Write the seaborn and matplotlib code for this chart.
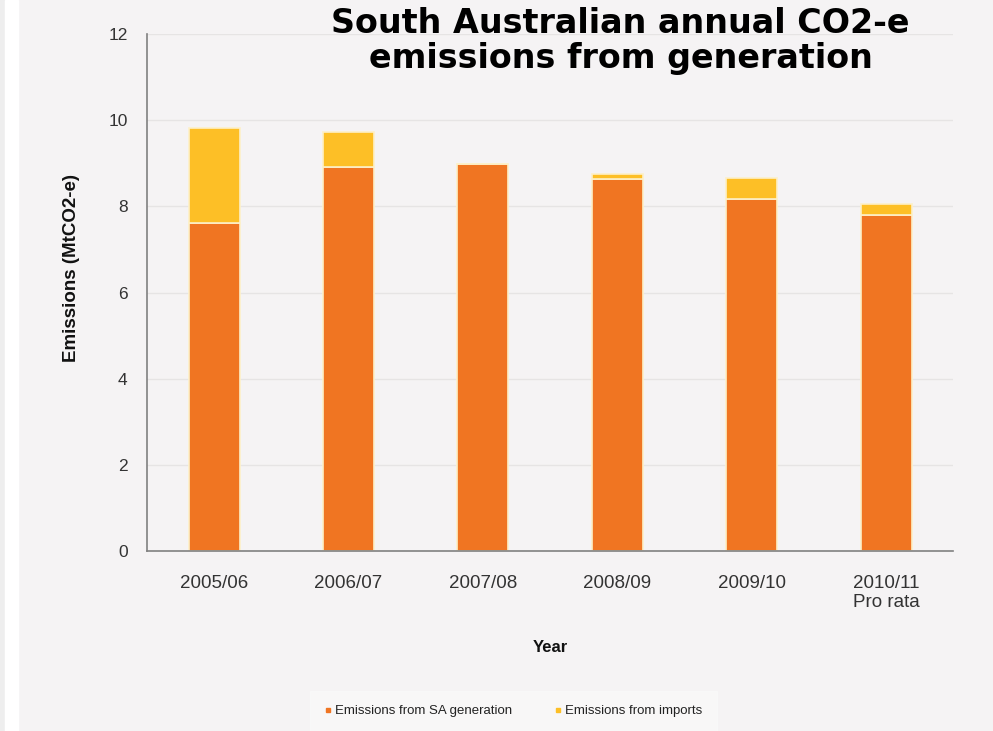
import matplotlib
matplotlib.use('Agg')
import matplotlib.pyplot as plt
import seaborn as sns
import numpy as np
from matplotlib.lines import Line2D
from matplotlib.patches import Rectangle

years = ['2005/06', '2006/07', '2007/08', '2008/09', '2009/10', '2010/11\nPro rata']
sa_gen = [7.62, 8.92, 8.99, 8.63, 8.17, 7.79]
imports = [2.19, 0.81, 0.0, 0.12, 0.49, 0.26]
yticks = [0, 2, 4, 6, 8, 10, 12]

c_sa = '#f07522'
c_imp = '#fdbf26'
bg = '#f5f3f4'

sns.set_style('white')
plt.rcParams['font.family'] = ['Liberation Sans', 'DejaVu Sans']

fig = plt.figure(figsize=(9.93, 7.31), dpi=100, facecolor=bg)
# left strip like the page border
fig.patches.append(Rectangle((0, 0), 0.005, 1, transform=fig.transFigure, color='#eeeeee', zorder=0))
fig.patches.append(Rectangle((0.005, 0), 0.013, 1, transform=fig.transFigure, color='white', zorder=0))

ax = fig.add_axes([0.148, 0.2462, 0.812, 0.7073])
ax.set_facecolor(bg)

sns.barplot(x=years, y=sa_gen, color=c_sa, width=0.38, saturation=1,
            edgecolor='#fdf0c8', linewidth=1.2, ax=ax)
sns.barplot(x=years, y=imports, bottom=sa_gen, color=c_imp, width=0.38, saturation=1,
            edgecolor='#fdf0c8', linewidth=1.2, ax=ax)

ax.set_ylim(0, 12)
ax.set_xlim(-0.5, len(years) - 0.5)
ax.set_yticks(yticks)
ax.set_yticklabels([str(t) for t in yticks])
for t in yticks[1:]:
    ax.axhline(t, color='#e6e4e4', lw=1, zorder=0)

# category boundary ticks on x
ax.set_xticks(np.arange(len(years)))
ax.set_xticklabels(years, fontsize=13.5, color='#333333', linespacing=1.15)
ax.set_xticks(np.arange(-0.5, len(years)), minor=True)
ax.tick_params(axis='x', which='major', length=0, pad=17)
ax.tick_params(axis='x', which='minor', length=5, color='#808080', width=1, direction='out')
ax.tick_params(axis='y', length=5, color='#808080', width=1, direction='out', labelsize=12.5,
               labelcolor='#333333', pad=9)

sns.despine(ax=ax)
for s in ['left', 'bottom']:
    ax.spines[s].set_color('#808080')
    ax.spines[s].set_linewidth(1.2)

ax.set_ylabel('Emissions (MtCO2-e)', fontsize=13.5, fontweight='bold', color='#111111')
ax.yaxis.set_label_coords(-0.083, 0.547)
ax.set_xlabel('Year', fontsize=12, fontweight='bold', color='#111111', labelpad=21)

fig.text(0.625, 0.944, 'South Australian annual CO2-e\nemissions from generation',
         ha='center', va='center', fontsize=24, fontweight='bold', family='DejaVu Sans',
         color='black', linespacing=1.1)

handles = [Line2D([], [], marker='s', ls='none', color=c_sa, markersize=3),
           Line2D([], [], marker='s', ls='none', color=c_imp, markersize=3)]
leg = fig.legend(handles, ['Emissions from SA generation', 'Emissions from imports'],
                 loc='center', bbox_to_anchor=(0.517, 0.027), ncol=2, fontsize=9.5,
                 frameon=True, handlelength=0.6, handletextpad=0.2, columnspacing=3.2,
                 borderpad=0.8)
for txt in leg.get_texts():
    txt.set_color('#222222')
leg.get_frame().set_facecolor('#f9f9f9')
leg.get_frame().set_edgecolor('#f9f9f9')
leg.get_frame().set_boxstyle('square')

fig.savefig('out.png', dpi=100, facecolor=bg)
